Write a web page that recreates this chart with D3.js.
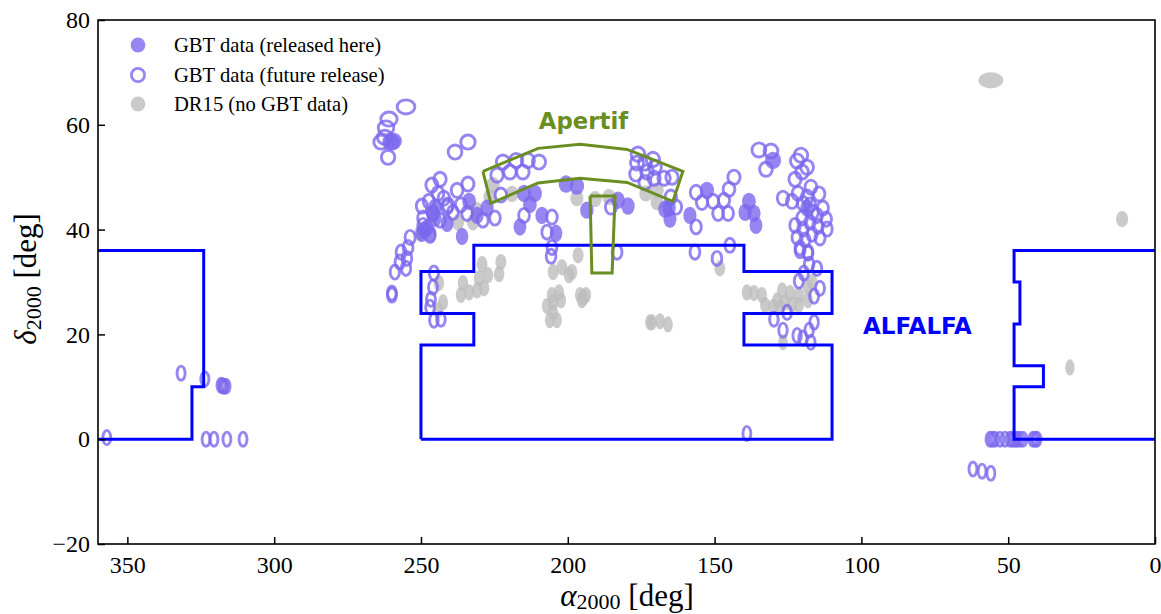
<!DOCTYPE html>
<html><head><meta charset="utf-8">
<script src="https://cdn.jsdelivr.net/npm/d3@7"></script>
<style>html,body{margin:0;padding:0;background:#fff}svg{display:block}text{font-family:"Liberation Serif",serif;fill:#000}</style>
</head><body><svg id="c" width="1161" height="614"></svg>
<script>
const xTicks=[350,300,250,200,150,100,50,0];
const yTicks=[-20,0,20,40,60,80];
const legendLabels=["GBT data (released here)","GBT data (future release)","DR15 (no GBT data)"];
const released=[[260.2,56.7],[259.5,56.9],[236,38.7],[233.6,45.4],[230.9,42.7],[227.5,44.1],[214.9,46.9],[211.2,46.9],[212.9,44.8],[208.8,42.7],[216.3,40.5],[204,39.3],[200.6,48.7],[196.9,48.3],[193.5,43.7],[182.9,45.6],[179.5,44.5],[166.9,43.9],[165.2,42],[165.5,44.1],[158.4,42.7],[152.6,47.5],[138.3,45.4],[139.6,43.3],[136.6,43.1],[135.9,40.8],[130.1,53.2],[118.5,44.1],[245.2,44.3],[241.1,41.2],[246.9,39.3],[249.7,39.3],[248,40.3],[245.9,43.1],[249,39.9],[245.2,42.2]];
const future=[[255.1,63.4],[260.9,61.1],[261.9,59.4],[262.3,57.6],[263.6,56.7],[261.2,53.8],[238.4,54.8],[234,56.7],
[243.5,49.6],[246.3,48.5],[237.7,47.5],[234,48.7],[244.2,46.9],[247.3,45.4],[242.2,46],[240.8,44.7],[241.1,44.3],[249.7,44.5],[239.1,43.3],[236.4,44.7],[234.3,43.1],[249.3,42.2],[249.3,40.8],[245.9,43.1],[243.5,41.8],[246.9,38.9],[253.7,38.5],[254.4,36.6],[256.8,35.7],[254.8,34.5],[257.2,33.8],[255.1,32.6],[258.9,31.9],
[228.9,41.8],[224.8,42.2],[222.8,46.6],[224.1,50.4],[219.7,51],[215.3,51],[222.1,52.9],[217.6,53.2],[213.6,53.2],[209.8,52.9],[214.9,42.7],[205.4,42.4],[207.1,39.5],[205.4,36.6],[205.7,34.9],[185.3,44.3],[183.2,35.7],[259.9,27.5],[259.9,27.9],[245.6,31.7],[245.9,29],[246.6,26.7],[246.9,25.2],[245.6,22.7],[243.2,22.9],
[176.1,54.4],[171,53.4],[176.4,52.7],[173.7,52.7],[170.3,51.9],[176.8,50.6],[173,51],[173.7,49],[170.6,49.8],[167.2,49.8],[164.5,50],[164.9,46.2],[163.1,44.3],[156.3,40.5],[156.3,47.1],[154.3,45.2],[150.5,45.4],[146.8,45.6],[145.1,47.7],[143.4,50],[148.8,43.1],[145.4,43.1],[156.7,35.7],[144.8,37],[149.2,34.5],[134.9,55.2],[130.8,55],[132.5,51.5],[126.7,46],[123.6,45.4],
[120.6,54.2],[121.9,53.1],[118.5,51.9],[120.2,51],[122.6,49.6],[117.2,48.1],[121.6,46.9],[114.4,46.8],[118.5,46.2],[113.1,44.1],[117.5,44.7],[119.9,45],[116.5,43.3],[120.2,42.2],[112,42],[115.1,42.7],[117.5,41.4],[122.6,40.8],[111.7,40.1],[114.8,40.6],[119.9,40.1],[116.8,39.1],[121.9,38.5],[114.1,38.4],[119.2,38],[120.9,36.5],[118.2,35.7],
[120.9,36],[118.2,35.5],[117.8,33.4],[115.1,32.6],[119.6,31.7],[121.3,30.2],[114.1,28.8],[116.1,27.3],[125.3,24.2],[129.8,22.9],[116.1,22.3],[126.7,20.8],[117.8,20.8],[121.9,19.8],[119.9,19.3],[117.2,18.5],[139,1.1],
[331.7,12.6],[323.6,11.5],[318.1,10.3],[317.5,10.2],[317.1,10.1],[316.4,10.1],[357,0.3],[323.2,0],[320.5,0],[316.1,0],[310.6,0],
[56.2,0],[55.4,0],[54.5,0],[52.8,0],[51.1,0],[49.4,0],[48.5,0],[47.7,0],[47,0],[46,0],[45,0],[41.6,0],[40.8,0],[40.2,0],[62,-5.7],[58.9,-6.1],[55.9,-6.5]];
const dr15=[[29,13.7],[11.2,42],[55.9,68.5],[229.2,33.4],[222.8,33.8],[223.4,31.5],[227.2,31.3],[230.2,30.7],[235.7,29.8],[228.5,28.8],[230.9,28.4],[233.6,28],[236.4,27.5],[243.9,29.8],[242.5,26.1],[244.2,24.6],[196.5,35.1],[205,31.9],[202,32.8],[198.6,31.9],[199.6,31.3],[205.4,27.5],[203,28],[202.3,26.5],[205,26.1],[207.1,25.4],[205,24.2],[206.1,22.7],[203.7,22.7],[195.8,27.5],[193.8,27.5],[195.2,26.5],[194.6,27],
[225.5,48.5],[226.5,46.2],[219,46.8],[196.9,46],[190.7,45.8],[186,46.2],[173.4,46.9],[169.6,47.5],[169.6,45.2],[237.4,41.4],[232.3,41.4],[231,43.7],[250.3,39.3],[148.2,32.6],[172,22.3],[171.3,22.3],[168.6,22.5],[165.9,21.9],
[139,28],[136.6,27.9],[133.9,27.5],[132.8,25.6],[130.1,25.2],[128.7,26.5],[127,28.4],[124.3,27.9],[121.3,27.5],[126,26.1],[123.6,25.6],[121.3,25.6],[118.2,26.5],[116.8,30],[118.2,29],[126.7,18.5],[127.7,25.2]];
const alfalfaWest=[[360,36],[324,36],[324,10],[328,10],[328,0],[360,0]];
const alfalfaCentre=[[250,0],[250,18],[232,18],[232,24],[250,24],[250,32],[232,32],[232,37],[140,37],[140,32],[110,32],[110,24],[140,24],[140,18],[110,18],[110,0],[250,0]];
const alfalfaEast=[[0,36],[48,36],[48,30],[46,30],[46,22],[48,22],[48,14],[38,14],[38,10],[48,10],[48,0],[0,0]];
const apertifArc=[[228.9,51.1],[210.1,55.5],[195.8,56.3],[179.8,55.3],[160.8,51.1],[164.2,45.4],[179.8,49],[195.8,49.8],[210.1,48.9],[226.2,45],[228.9,51.1]];
const apertifStrip=[[192.4,46.4],[183.9,46.4],[184.9,31.7],[191.8,31.7],[192.4,46.4]];

const svg=d3.select("#c");
const x=d3.scaleLinear().domain([360,0]).range([98,1155]);
const y=d3.scaleLinear().domain([-20,80]).range([544,20]);
const purple="#7b68ee",grey="#bdbdbd",blue="#0000ff",olive="#6b8e23";
svg.append("defs").append("clipPath").attr("id","p").append("rect").attr("x",98).attr("y",20).attr("width",1057).attr("height",524);
const g=svg.append("g").attr("clip-path","url(#p)");
function sky(sel,data,r){
  sel.selectAll("e").data(data).join("ellipse")
    .attr("cx",d=>x(d[0])).attr("cy",d=>y(d[1]))
    .attr("rx",d=>Math.abs(x(0)-x(r/Math.cos(d[1]*Math.PI/180))))
    .attr("ry",d=>Math.abs(y(0)-y(r)));
}
g.append("g").attr("fill",grey).attr("fill-opacity",.8).call(sky,dr15,1.55);
g.append("g").attr("fill",purple).attr("fill-opacity",.8).call(sky,released,1.65);
g.append("g").attr("fill","none").attr("stroke",purple).attr("stroke-opacity",.8).attr("stroke-width",2.9).call(sky,future,1.35);
const line=d3.line().x(d=>x(d[0])).y(d=>y(d[1]));
[alfalfaWest,alfalfaCentre,alfalfaEast].forEach(a=>g.append("path").attr("d",line(a)).attr("fill","none").attr("stroke",blue).attr("stroke-width",3));
[apertifArc,apertifStrip].forEach(a=>g.append("path").attr("d",line(a)).attr("fill","none").attr("stroke",olive).attr("stroke-width",3));

const xa=svg.append("g").attr("transform","translate(0,544)").call(d3.axisBottom(x).tickValues(xTicks).tickSize(-7).tickPadding(12).tickFormat(d3.format("d")));
const ya=svg.append("g").attr("transform","translate(98,0)").call(d3.axisLeft(y).tickValues(yTicks).tickSize(-7).tickPadding(8).tickFormat(d=>String(d).replace("-","\u2212")));
[xa,ya].forEach(a=>{a.selectAll("text").style("font-family","Liberation Serif").style("font-size","24px").attr("fill","#000");a.selectAll("line").attr("stroke","#000").attr("stroke-width",1.5);a.select(".domain").remove();});
svg.append("rect").attr("x",98).attr("y",20).attr("width",1057).attr("height",524).attr("fill","none").attr("stroke","#000").attr("stroke-width",1.6);

const lg=svg.append("g");
[45,75,104].forEach((ly,i)=>{
  const c=lg.append("circle").attr("cx",138).attr("cy",ly);
  if(i==1)c.attr("r",6.6).attr("fill","none").attr("stroke",purple).attr("stroke-opacity",.8).attr("stroke-width",2.8);
  else c.attr("r",7.4).attr("fill",i==0?purple:grey).attr("fill-opacity",.8);
  lg.append("text").attr("x",174).attr("y",ly+7).attr("font-size",20.6).text(legendLabels[i]);
});
svg.append("text").attr("x",583.5).attr("y",129).attr("text-anchor","middle").attr("font-size",22.8).attr("font-weight","bold").style("font-family","DejaVu Sans").style("fill",olive).text("Apertif");
svg.append("text").attr("x",917.5).attr("y",334).attr("text-anchor","middle").attr("font-size",23).attr("font-weight","bold").style("font-family","DejaVu Sans").style("fill",blue).text("ALFALFA");

const xl=svg.append("text").attr("x",627).attr("y",606).attr("text-anchor","middle").attr("font-size",31);
xl.append("tspan").attr("font-style","italic").text("\u03b1");
xl.append("tspan").attr("font-size",22).attr("dy",3).text("2000");
xl.append("tspan").attr("dy",-3).text(" [deg]");
const yl=svg.append("text").attr("transform","translate(36,279) rotate(-90)").attr("text-anchor","middle").attr("font-size",31);
yl.append("tspan").attr("font-style","italic").text("\u03b4");
yl.append("tspan").attr("font-size",22).attr("dy",5).text("2000");
yl.append("tspan").attr("dy",-5).text(" [deg]");
</script></body></html>
